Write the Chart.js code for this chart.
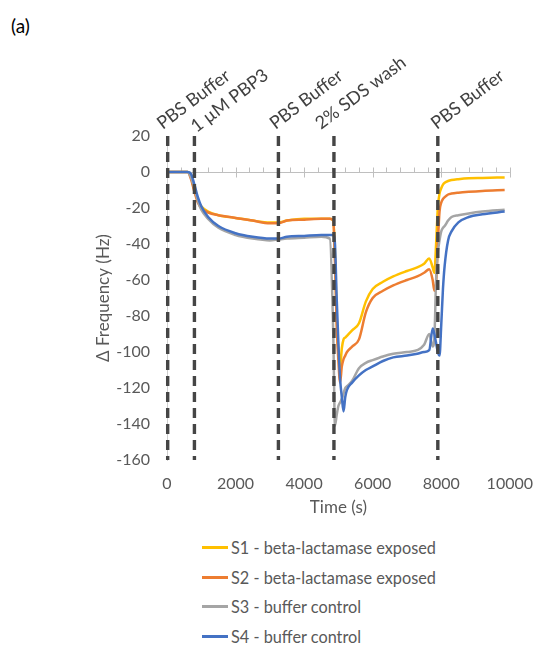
<!DOCTYPE html>
<html>
<head>
<meta charset="utf-8">
<script src="https://cdn.jsdelivr.net/npm/chart.js@4/dist/chart.umd.min.js"></script>
<style>
  body { margin: 0; background: #fff; width: 547px; height: 646px; position: relative; overflow: hidden; font-family: Lato, sans-serif; }
  #wrap { position: absolute; left: 0; top: 0; width: 547px; height: 520px; }
  #tag { position: absolute; left: 11px; top: 14px; font-size: 19px; color: #000; }
  #legend { position: absolute; left: 202px; top: 533px; }
  .row { display: flex; align-items: center; height: 29.5px; font-size: 16.3px; color: #595959; }
  .sw { width: 26px; height: 3px; margin-right: 3px; }
</style>
</head>
<body>
<div id="tag">(a)</div>
<div id="wrap"><canvas id="chart" width="547" height="520"></canvas></div>
<div id="legend"></div>

<script>
// --- data ---
const times = [0, 300, 600, 700, 800, 900, 1000, 1200, 1500, 2000, 2500, 3000, 3250, 3500, 4000, 4500,
    4750, 4850, 4900, 4950, 5000, 5050, 5100, 5150, 5200, 5250, 5400, 5600, 5800, 6000, 6300, 6600,
    7000, 7300, 7500, 7650, 7750, 7800, 7850, 7900, 7950, 8000, 8050, 8100, 8200, 8300, 8500, 8800, 9200, 9850];

const s1Values = [0, 0, 0, -3, -10, -16, -19, -22, -24, -25.5, -27, -28, -28, -27, -26, -26,
    -26, -27, -45, -80, -100, -108, -98, -93, -92, -91, -88, -84, -72, -65, -61, -58,
    -55, -53, -51, -48, -53, -56, -40, -20, -12, -9, -7, -6, -5, -4.5, -4, -3.5, -3.3, -3];

const s2Values = [0, 0, 0, -4, -11, -17, -20, -22.5, -24, -25.5, -27, -28.5, -28.5, -27, -26.5, -26,
    -26, -27, -50, -85, -105, -117, -108, -104, -102, -100, -97, -93, -78, -70, -66, -63,
    -60, -58, -56, -54, -60, -66, -62, -40, -22, -17, -15, -14, -12.5, -12, -11.5, -11, -10.5, -10];

const s3Values = [0, 0, 0, -3, -9, -16, -21, -26, -31, -35, -37, -38, -37.5, -37, -36.5, -36,
    -37, -90, -141, -135, -130, -128, -126, -123, -120, -119, -116, -109, -106, -104.5, -102.5, -101,
    -100, -99, -96, -90, -97, -92, -60, -45, -38, -33, -31, -30, -27, -25, -24, -23, -22, -21];

const s4Values = [0, 0, 0, -1, -7, -14, -19, -25, -30, -34, -36, -37, -37, -36, -35.5, -35,
    -35, -35, -40, -70, -95, -115, -125, -133, -125, -121, -117, -113, -110, -108, -105, -103,
    -102, -101, -100, -99, -87, -90, -95, -100, -102, -85, -65, -52, -38, -33, -28, -25, -23.5, -22];

const seriesNames = [
    'S1 - beta-lactamase exposed',
    'S2 - beta-lactamase exposed',
    'S3 - buffer control',
    'S4 - buffer control'
];
const seriesColors = ['#FFC000', '#ED7D31', '#A5A5A5', '#4472C4'];

// injection events (vertical dashed markers)
const eventTimes = [20, 800, 3250, 4870, 7900];
const eventLabels = ['PBS Buffer', '1 µM PBP3', 'PBS Buffer', '2% SDS wash', 'PBS Buffer'];

const xMin = 0, xMax = 10000, xStep = 2000;
const yMin = -160, yMax = 20, yStep = 20;

// --- drawing ---
const allValues = [s1Values, s2Values, s3Values, s4Values];

// little nudges so the rotated labels sit where they do in the figure
const labelNudge = [-5, 2, -3, -13, -1];

const overlay = {
    id: 'overlay',
    beforeDatasetsDraw(chart) {
        const { ctx, scales: { x, y } } = chart;
        const y0 = Math.round(y.getPixelForValue(0)) + 0.5;
        ctx.save();
        ctx.strokeStyle = '#bfbfbf';
        ctx.lineWidth = 1;
        ctx.beginPath();
        ctx.moveTo(x.left, y0);
        ctx.lineTo(x.right, y0);
        for (let t = xMin; t <= xMax; t += xStep / 5) {
            const px = Math.round(x.getPixelForValue(t)) + 0.5;
            ctx.moveTo(px, y0 - 5);
            ctx.lineTo(px, t % xStep === 0 ? y0 + 5 : y0);
        }
        ctx.stroke();
        ctx.restore();
    },
    afterDatasetsDraw(chart) {
        const { ctx, scales: { x, y } } = chart;
        ctx.save();

        // dashed event lines
        ctx.strokeStyle = '#454545';
        ctx.lineWidth = 3.4;
        ctx.setLineDash([10, 6]);
        eventTimes.forEach(t => {
            const px = x.getPixelForValue(t);
            ctx.beginPath();
            ctx.moveTo(px, y.getPixelForValue(yMax));
            ctx.lineTo(px, y.getPixelForValue(yMin));
            ctx.stroke();
        });
        ctx.setLineDash([]);

        // rotated event labels
        ctx.fillStyle = '#404040';
        ctx.font = '18px Lato';
        ctx.textAlign = 'left';
        ctx.textBaseline = 'alphabetic';
        eventTimes.forEach((t, i) => {
            const px = x.getPixelForValue(t) + labelNudge[i];
            ctx.save();
            ctx.translate(px, i === 1 ? 133 : 130);
            ctx.rotate(-37 * Math.PI / 180);
            ctx.fillText(eventLabels[i], 0, 0);
            ctx.restore();
        });

        // axis titles
        ctx.fillStyle = '#595959';
        ctx.font = '17px Lato';
        ctx.textAlign = 'center';
        ctx.textBaseline = 'middle';
        ctx.fillText('Time (s)', (x.left + x.right) / 2, 508);
        ctx.save();
        ctx.translate(104, (y.top + y.bottom) / 2);
        ctx.rotate(-Math.PI / 2);
        ctx.fillText('Δ Frequency (Hz)', 0, 0);
        ctx.restore();

        ctx.restore();
    }
};

const datasets = seriesNames.map((name, i) => ({
    label: name,
    data: times.map((t, k) => ({ x: t, y: allValues[i][k] })),
    borderColor: seriesColors[i],
    backgroundColor: seriesColors[i],
    borderWidth: 2.5,
    pointRadius: 0,
    cubicInterpolationMode: 'monotone',
    order: 4 - i
}));

const tickFont = { family: 'Lato', size: 16 };

new Chart(document.getElementById('chart'), {
    type: 'line',
    data: { datasets },
    options: {
        responsive: false,
        animation: false,
        layout: { padding: { top: 136, right: 24, left: 0, bottom: 0 } },
        plugins: { legend: { display: false }, tooltip: { enabled: false } },
        scales: {
            x: {
                type: 'linear',
                min: xMin, max: xMax,
                grid: { display: false, drawTicks: false },
                border: { display: false },
                ticks: { stepSize: xStep, padding: 14, color: '#595959', font: tickFont, callback: v => String(v) },
                afterFit(s) { s.height = 60; }
            },
            y: {
                min: yMin, max: yMax,
                grid: { display: false, drawTicks: false },
                border: { display: true, color: '#cfcfcf', width: 1 },
                ticks: { stepSize: yStep, padding: 17, color: '#595959', font: tickFont, callback: v => String(v) },
                afterFit(s) { s.width = 167; }
            }
        }
    },
    plugins: [overlay]
});

// legend (vertical list, like the original)
const legend = document.getElementById('legend');
seriesNames.forEach((name, i) => {
    const row = document.createElement('div');
    row.className = 'row';
    row.innerHTML = `<span class="sw" style="background:${seriesColors[i]}"></span><span>${name}</span>`;
    legend.appendChild(row);
});
</script>
</body>
</html>
